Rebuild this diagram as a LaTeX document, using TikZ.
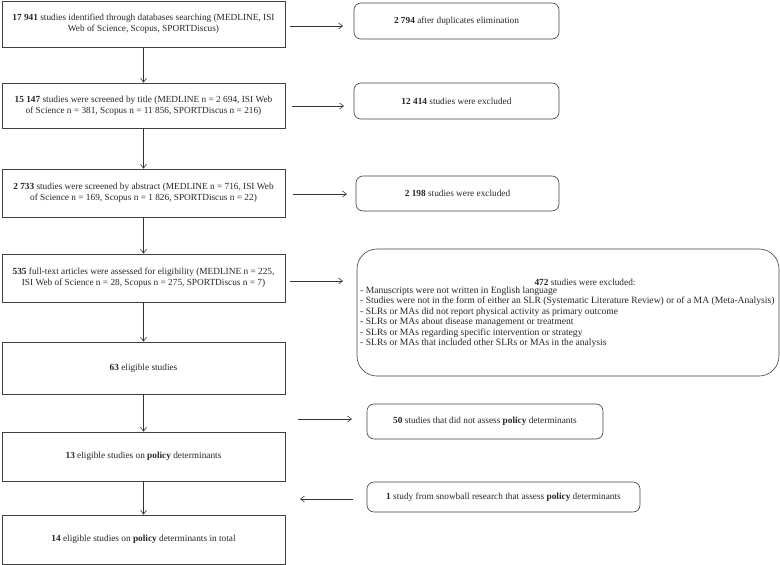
\documentclass[tikz,border=0pt]{standalone}
\usepackage{fontspec}
\setmainfont{Liberation Serif}
\usetikzlibrary{arrows.meta}
\begin{document}
\begin{tikzpicture}[x=1pt,y=1pt,
  every node/.style={font=\fontsize{9.3}{11}\selectfont, inner sep=0pt, text=black!85},
  lbox/.style={draw=black!75, line width=0.6pt, minimum width=283pt, align=center},
  rbox/.style={draw=black!75, line width=0.6pt, rounded corners=7pt, align=center},
  arr/.style={draw=black!80, line width=0.6pt, -{Straight Barb[length=4pt,width=6pt]}}]
\useasboundingbox (0,0) rectangle (780,-565);
% left column
\node[lbox, minimum height=46pt] (b1) at (143.5,-24) {\textbf{17 941} studies identified through databases searching (MEDLINE, ISI\\Web of Science, Scopus, SPORTDiscus)};
\node[lbox, minimum height=45pt] (b2) at (143.5,-105.5) {\textbf{15 147} studies were screened by title (MEDLINE n = 2 694, ISI Web\\of Science n = 381, Scopus n = 11 856, SPORTDiscus n = 216)};
\node[lbox, minimum height=48pt] (b3) at (143.5,-193) {\textbf{2 733} studies were screened by abstract (MEDLINE n = 716, ISI Web\\of Science n = 169, Scopus n = 1 826, SPORTDiscus n = 22)};
\node[lbox, minimum height=48pt] (b4) at (143.5,-278) {\textbf{535} full-text articles were assessed for eligibility (MEDLINE n = 225,\\ISI Web of Science n = 28, Scopus n = 275, SPORTDiscus n = 7)};
\node[lbox, minimum height=52pt] (b5) at (143.5,-368) {\textbf{63} eligible studies};
\node[lbox, minimum height=49pt] (b6) at (143.5,-456.5) {\textbf{13} eligible studies on \textbf{policy} determinants};
\node[lbox, minimum height=49pt] (b7) at (143.5,-539.5) {\textbf{14} eligible studies on \textbf{policy} determinants in total};
% right column
\node[rbox, minimum width=205pt, minimum height=36pt] (r1) at (456.5,-21) {\textbf{2 794} after duplicates elimination};
\node[rbox, minimum width=205pt, minimum height=36pt] (r2) at (456.5,-101) {\textbf{12 414} studies were excluded};
\node[rbox, minimum width=203pt, minimum height=35pt] (r3) at (457.5,-193.5) {\textbf{2 198} studies were excluded};
\node[draw=black!75, line width=0.6pt, rounded corners=20pt, minimum width=422pt, minimum height=127pt] (r4) at (568,-312.5) {};
\node (r4t) at (585,-282) {\textbf{472} studies were excluded:};
\node[anchor=north west, align=left, font=\fontsize{9.6}{10.5}\selectfont] (r4l) at (360,-286.5) {- Manuscripts were not written in English language\\
- Studies were not in the form of either an SLR (Systematic Literature Review) or of a MA (Meta-Analysis)\\
- SLRs or MAs did not report physical activity as primary outcome\\
- SLRs or MAs about disease management or treatment\\
- SLRs or MAs regarding specific intervention or strategy\\
- SLRs or MAs that included other SLRs or MAs in the analysis};
\node[rbox, minimum width=236pt, minimum height=35pt] (r5) at (485,-421.5) {\textbf{50} studies that did not assess \textbf{policy} determinants};
\node[rbox, minimum width=273pt, minimum height=30pt] (r6) at (503.5,-497) {\textbf{1} study from snowball research that assess \textbf{policy} determinants};
% vertical arrows
\draw[arr] (b1) -- (b2);
\draw[arr] (b2) -- (b3);
\draw[arr] (b3) -- (b4);
\draw[arr] (b4) -- (b5);
\draw[arr] (b5) -- (b6);
\draw[arr] (b6) -- (b7);
% horizontal arrows
\coordinate (a1s) at (290,-26); \coordinate (a1e) at (343,-26);
\coordinate (a2s) at (292,-106); \coordinate (a2e) at (344,-106);
\coordinate (a3s) at (293,-194); \coordinate (a3e) at (347,-194);
\coordinate (a4s) at (290,-281); \coordinate (a4e) at (343,-281);
\coordinate (a5s) at (298,-419); \coordinate (a5e) at (352,-419);
\coordinate (a6s) at (353,-499); \coordinate (a6e) at (300,-499);
\draw[arr] (a1s) -- (a1e);
\draw[arr] (a2s) -- (a2e);
\draw[arr] (a3s) -- (a3e);
\draw[arr] (a4s) -- (a4e);
\draw[arr] (a5s) -- (a5e);
\draw[arr] (a6s) -- (a6e);
\end{tikzpicture}
\end{document}
